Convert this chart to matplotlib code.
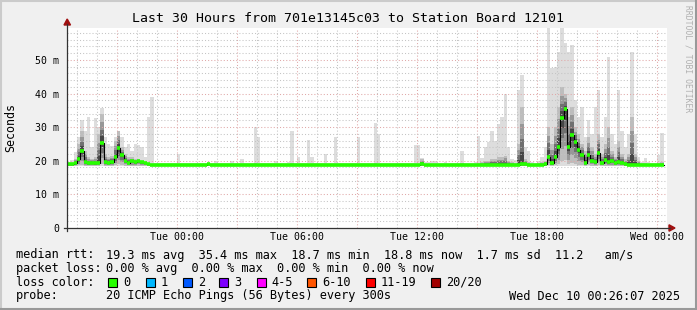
import numpy as np
import matplotlib
matplotlib.use("Agg")
import matplotlib.pyplot as plt
from matplotlib.lines import Line2D
from matplotlib.patches import Polygon, Rectangle

W, H = 697, 310
MONO = "DejaVu Sans Mono"

# median rtt per 10 minute step, starting Mon 18:30 (ms)
median_ms = [
    18.9, 18.9, 19.2, 20.5, 23.0, 19.5, 19.2, 19.3, 19.2, 19.4, 25.4, 19.5,
    19.4, 19.6, 21.0, 23.8, 21.7, 20.0, 19.4, 19.8, 19.6, 19.9, 19.5, 19.3,
    18.9, 18.8, 18.8, 18.8, 18.8, 18.7, 18.8, 18.8, 18.8, 18.8, 18.7, 18.8,
    18.8, 18.8, 18.8, 18.8, 18.8, 18.8, 18.9, 18.8, 18.8, 18.8, 18.8, 18.8,
    18.8, 18.8, 18.8, 18.8, 18.8, 18.8, 18.8, 18.8, 18.8, 18.8, 18.8, 18.7,
    18.8, 18.8, 18.8, 18.8, 18.8, 18.8, 18.8, 18.8, 18.8, 18.8, 18.8, 18.8,
    18.8, 18.8, 18.7, 18.8, 18.8, 18.8, 18.8, 18.8, 18.8, 18.8, 18.8, 18.8,
    18.8, 18.8, 18.8, 18.8, 18.8, 18.8, 18.8, 18.8, 18.8, 18.8, 18.8, 18.8,
    18.8, 18.8, 18.8, 18.8, 18.8, 18.8, 18.8, 18.8, 18.8, 18.8, 18.9, 18.8,
    18.8, 18.8, 18.8, 18.8, 18.8, 18.8, 18.8, 18.8, 18.8, 18.8, 18.8, 18.8,
    18.8, 18.8, 18.8, 18.8, 18.8, 18.8, 18.8, 18.8, 18.8, 18.8, 18.8, 18.8,
    18.8, 18.8, 18.8, 18.8, 18.9, 18.9, 18.8, 18.8, 18.8, 18.8, 18.8, 18.9,
    21.2, 19.2, 21.0, 24.0, 32.7, 35.4, 24.0, 27.7, 25.5, 23.2, 21.7, 19.4,
    21.7, 20.0, 19.5, 22.3, 19.3, 20.2, 19.5, 19.8, 19.4, 19.6, 19.3, 18.9,
    18.8, 18.8, 18.8, 18.8, 18.8, 18.8, 18.8, 18.8, 18.8, 18.8, 18.8,
]

# slowest ping of each step (ms)
max_ms = [
    19.5, 20.2, 22.5, 27.0, 32.0, 29.0, 33.0, 24.0, 32.7, 30.0, 35.7, 27.0,
    25.0, 24.5, 27.0, 29.0, 27.0, 24.0, 25.0, 23.0, 25.0, 24.7, 24.0, 21.0,
    33.0, 39.0, 19.4, 19.3, 19.3, 19.3, 19.3, 19.3, 19.3, 22.0, 19.3, 19.3,
    19.3, 19.3, 19.3, 19.3, 19.3, 19.3, 19.3, 19.3, 20.0, 19.3, 19.3, 19.3,
    19.3, 20.0, 19.3, 19.3, 20.5, 19.3, 19.3, 19.3, 30.0, 27.0, 19.3, 19.3,
    19.3, 19.3, 20.0, 19.3, 19.3, 19.3, 19.5, 29.0, 19.3, 21.0, 19.3, 19.3,
    26.2, 21.2, 19.3, 19.3, 19.3, 22.0, 19.3, 19.3, 27.2, 19.3, 19.3, 19.3,
    19.3, 19.3, 19.3, 27.2, 19.3, 19.3, 19.3, 19.3, 31.2, 28.0, 19.3, 19.3,
    19.3, 19.3, 19.3, 19.3, 19.3, 19.3, 19.3, 19.3, 24.7, 24.7, 20.8, 19.5,
    19.5, 20.0, 20.0, 19.3, 19.3, 19.5, 19.3, 19.3, 19.3, 19.3, 23.0, 19.3,
    19.3, 19.3, 19.5, 27.4, 20.8, 24.2, 25.7, 29.0, 26.0, 31.0, 33.0, 40.0,
    24.0, 20.5, 20.2, 41.0, 45.5, 24.0, 23.0, 19.5, 19.3, 20.0, 21.0, 24.0,
    59.5, 47.6, 48.0, 52.5, 59.5, 55.0, 52.5, 54.5, 38.0, 33.0, 36.0, 27.0,
    32.0, 28.0, 36.0, 41.0, 27.0, 33.0, 51.0, 28.0, 25.0, 41.0, 29.0, 24.0,
    28.0, 52.5, 28.0, 21.0, 19.5, 20.8, 19.5, 19.3, 19.3, 21.7, 28.4,
]

# upper edge of the dense (dark) part of the smoke (ms)
dark_ms = [
    19.1, 19.2, 20.5, 25.0, 29.0, 23.0, 21.0, 20.5, 21.0, 28.0, 34.0, 22.0,
    21.0, 21.5, 26.0, 29.0, 24.0, 22.0, 21.0, 21.0, 20.5, 20.5, 20.0, 19.6,
    19.1, 19.0, 19.0, 19.0, 19.0, 19.0, 19.0, 19.0, 19.0, 19.0, 19.0, 19.0,
    19.0, 19.0, 19.0, 19.0, 19.0, 19.0, 19.0, 19.0, 19.0, 19.0, 19.0, 19.0,
    19.0, 19.0, 19.0, 19.0, 19.0, 19.0, 19.0, 19.0, 19.2, 19.0, 19.0, 19.0,
    19.0, 19.0, 19.0, 19.0, 19.0, 19.0, 19.0, 19.2, 19.0, 19.0, 19.0, 19.0,
    19.0, 19.0, 19.0, 19.0, 19.0, 19.0, 19.0, 19.0, 19.0, 19.0, 19.0, 19.0,
    19.0, 19.0, 19.0, 19.0, 19.0, 19.0, 19.0, 19.0, 19.2, 19.0, 19.0, 19.0,
    19.0, 19.0, 19.0, 19.0, 19.0, 19.0, 19.0, 19.0, 19.0, 19.0, 20.5, 19.0,
    19.0, 19.0, 19.0, 19.0, 19.0, 19.0, 19.0, 19.0, 19.0, 19.0, 19.2, 19.0,
    19.0, 19.0, 19.0, 19.2, 19.5, 19.8, 20.0, 20.5, 20.5, 21.0, 21.0, 21.5,
    20.0, 19.5, 19.2, 25.0, 36.0, 20.5, 19.5, 19.0, 19.0, 19.2, 19.5, 20.0,
    30.0, 25.0, 30.0, 36.0, 42.0, 40.0, 33.0, 36.0, 30.0, 28.0, 25.0, 23.0,
    27.0, 24.0, 22.0, 28.0, 22.0, 25.0, 30.0, 23.0, 21.0, 26.0, 22.0, 20.5,
    22.0, 33.0, 22.0, 20.0, 19.3, 19.2, 19.0, 19.0, 19.0, 19.2, 19.5,
]

ping_floor = 18.4  # fastest pings sit just under the median

x_tick_hours = [5.5, 11.5, 17.5, 23.5, 29.5]
x_tick_labels = ["Tue 00:00", "Tue 06:00", "Tue 12:00", "Tue 18:00", "Wed 00:00"]
y_ticks = [0, 10, 20, 30, 40, 50]
y_tick_labels = ["0", "10 m", "20 m", "30 m", "40 m", "50 m"]

loss_labels = ["0", "1", "2", "3", "4-5", "6-10", "11-19", "20/20"]
loss_colors = ["#26ff00", "#00b8ff", "#0059ff", "#7e00ff",
               "#ff00ff", "#ff5500", "#ff0000", "#a10000"]


def fx(x):
    return x / W


def fy(y):
    return 1 - y / H


fig = plt.figure(figsize=(W / 100, H / 100), dpi=100, facecolor="#f0f0f0")
ax = fig.add_axes([fx(67), fy(228), 600 / W, 200 / H])
ax.set_facecolor("white")
ax.set_xlim(0, 30)
ax.set_ylim(0, 59.5)
for s in ax.spines.values():
    s.set_visible(False)

med = np.array(median_ms)
hi = np.array(max_ms)
dk = np.array(dark_ms)
n = len(med)
t = np.arange(n + 1) / 6.0


def ext(a):
    return np.append(a, a[-1])


# smoke: outer band, then denser bands closing in on the median
ax.fill_between(t, ping_floor, ext(hi), step="post", color="#dddddd", lw=0, zorder=1)
bands = [(1.0, 0.9, "#bdbdbd"), (0.7, 0.65, "#989898"),
         (0.45, 0.42, "#707070"), (0.22, 0.2, "#464646")]
for ft, fb, c in bands:
    top = med + (dk - med) * ft
    bot = med - (med - ping_floor) * fb
    ax.fill_between(t, ext(bot), ext(top), step="post", color=c, lw=0, zorder=2)

# grid
gray = "#c4c4c4"
red = "#e0a8a8"
dots = (0, (1, 2))
for h in np.arange(0.5, 30, 1.0):
    major = abs((h - 2.5) / 3 - round((h - 2.5) / 3)) < 1e-6
    ax.axvline(h, color=red if major else gray, lw=0.75, ls=dots, zorder=3)
for v in np.arange(2, 60, 2):
    major = v % 10 == 0
    ax.axhline(v, color=red if major else gray, lw=0.75, ls=dots, zorder=3)

# median line
ax.step(t, ext(med), where="post", color="black", lw=0.8, zorder=4)
ax.hlines(med, t[:-1], t[1:], colors="#26ff00", lw=2.6, zorder=5)

ax.set_xticks(x_tick_hours, x_tick_labels)
ax.set_yticks(y_ticks, y_tick_labels)
ax.tick_params(length=0, labelsize=7.1)
ax.tick_params(axis="x", pad=3.2)
ax.tick_params(axis="y", pad=5.5)
for lab in ax.get_xticklabels() + ax.get_yticklabels():
    lab.set_family(MONO)

# axes with arrows
axis_c = "#333333"
arrow_c = "#a01010"
fig.add_artist(Line2D([fx(67), fx(67)], [fy(231), fy(24)], color=axis_c, lw=0.9))
fig.add_artist(Line2D([fx(64), fx(670)], [fy(228), fy(228)], color=axis_c, lw=0.9))
fig.add_artist(Polygon([(fx(64), fy(25)), (fx(70.5), fy(25)), (fx(67.2), fy(19))],
                       closed=True, color=arrow_c))
fig.add_artist(Polygon([(fx(669), fy(224.8)), (fx(669), fy(231.2)), (fx(675), fy(228))],
                       closed=True, color=arrow_c))

# frame
fig.add_artist(Line2D([0, 1], [fy(1), fy(1)], color="#cbcbcb", lw=1.5))
fig.add_artist(Line2D([fx(1), fx(1)], [0, 1], color="#cbcbcb", lw=1.5))
fig.add_artist(Line2D([0, 1], [fy(309), fy(309)], color="#999999", lw=1.5))
fig.add_artist(Line2D([fx(696), fx(696)], [0, 1], color="#999999", lw=1.5))

fig.text(fx(348.5), fy(19), "Last 30 Hours from 701e13145c03 to Station Board 12101",
         ha="center", va="center", family=MONO, fontsize=9.5)
fig.text(fx(11), fy(128), "Seconds", rotation=90, ha="center", va="center",
         family=MONO, fontsize=8.4)
fig.text(fx(688), fy(5), "RRDTOOL / TOBI OETIKER", rotation=270, ha="center",
         va="top", family=MONO, fontsize=5.8, color="#b0b0b0")

fs = 8.6
rows = [
    (255, "median rtt:", "19.3 ms avg  35.4 ms max  18.7 ms min  18.8 ms now  1.7 ms sd  11.2   am/s"),
    (268.5, "packet loss:", "0.00 % avg  0.00 % max  0.00 % min  0.00 % now"),
    (296, "probe:", "20 ICMP Echo Pings (56 Bytes) every 300s"),
]
for y, label, body in rows:
    fig.text(fx(16), fy(y), label, ha="left", va="center", family=MONO, fontsize=fs)
    fig.text(fx(106.5), fy(y), body, ha="left", va="center", family=MONO, fontsize=fs)
fig.text(fx(680), fy(296), "Wed Dec 10 00:26:07 2025", ha="right", va="center",
         family=MONO, fontsize=fs)

fig.text(fx(16), fy(282.3), "loss color:", ha="left", va="center", family=MONO, fontsize=fs)
box_x = [108.3, 145.7, 182.7, 219.3, 256.7, 307.0, 365.7, 431.0]
for bx, lab, c in zip(box_x, loss_labels, loss_colors):
    fig.add_artist(Rectangle((fx(bx), fy(286.8)), 9 / W, 9 / H, facecolor=c,
                             edgecolor="black", lw=0.8))
    fig.text(fx(bx + 15), fy(282.3), lab, ha="left", va="center", family=MONO, fontsize=fs)

fig.savefig("out.png", dpi=100, facecolor=fig.get_facecolor())
